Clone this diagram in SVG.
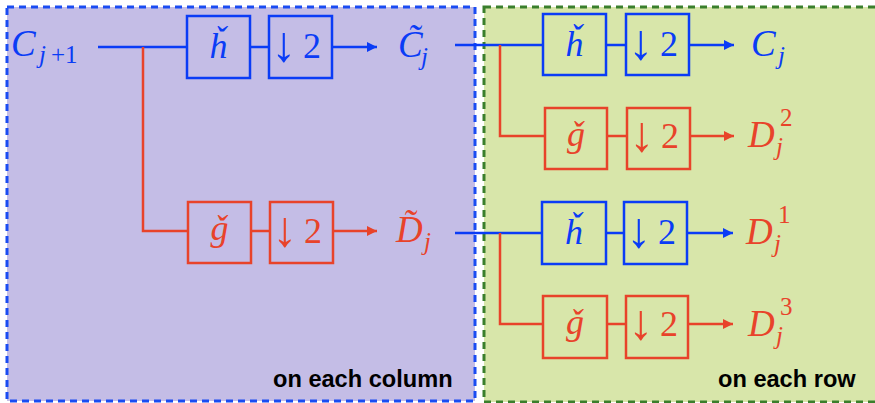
<svg xmlns="http://www.w3.org/2000/svg" width="875" height="403" viewBox="0 0 875 403">
<style>
.math{font-family:"Liberation Serif","DejaVu Serif",serif;font-style:italic;font-size:37px}
.rm{font-style:normal}
.sub{font-size:25px}
.blue{fill:#0a3cf6}
.red{fill:#e8432a}
.bbox{fill:none;stroke:#0a3cf6;stroke-width:2.5}
.rbox{fill:none;stroke:#e8432a;stroke-width:2.5}
.bl{fill:none;stroke:#0a3cf6;stroke-width:2.5}
.rl{fill:none;stroke:#e8432a;stroke-width:2.5}
.glyph{font-family:"Liberation Serif","DejaVu Serif",serif;font-size:36px;text-anchor:middle}
.arr{font-family:"Liberation Serif","DejaVu Serif",serif;font-size:50px;text-anchor:middle}
.two{font-family:"Liberation Serif",serif;font-size:36px;text-anchor:middle}
.caption{font-family:"Liberation Sans",Arial,sans-serif;font-weight:bold;font-size:23.6px;fill:#000}
</style>
<defs>
<marker id="ab" viewBox="0 0 10 10" refX="10" refY="5" markerWidth="4.4" markerHeight="4" markerUnits="strokeWidth" orient="auto"><path d="M0,0 L10,5 L0,10 z" fill="#0a3cf6"/></marker>
<marker id="ar" viewBox="0 0 10 10" refX="10" refY="5" markerWidth="4.4" markerHeight="4" markerUnits="strokeWidth" orient="auto"><path d="M0,0 L10,5 L0,10 z" fill="#e8432a"/></marker>
</defs>
<g id="panel-column">
<rect x="7" y="7" width="468" height="394" fill="#c4bde6" stroke="#1a4cf2" stroke-width="3" stroke-dasharray="7,5"/>
<text class="caption" x="273" y="387">on each column</text>
</g>
<g id="panel-row">
<rect x="484" y="7" width="400" height="395" fill="#d8e6aa" stroke="#3a7f2c" stroke-width="3" stroke-dasharray="7,5"/>
<text class="caption" x="718" y="387">on each row</text>
</g>
<g id="connectors">
<path class="bl" d="M98,47 H187"/>
<path class="bl" d="M250,47 H269"/>
<path class="bl" d="M332,47 H377" marker-end="url(#ab)"/>
<path class="rl" d="M143,47 V231 H188"/>
<path class="rl" d="M251,231 H270"/>
<path class="rl" d="M333,231 H377" marker-end="url(#ar)"/>
<path class="bl" d="M455,45 H543"/>
<path class="bl" d="M606,45 H626"/>
<path class="bl" d="M689,45 H734" marker-end="url(#ab)"/>
<path class="rl" d="M500,45 V136 H545"/>
<path class="rl" d="M607,136 H627"/>
<path class="rl" d="M690,136 H734" marker-end="url(#ar)"/>
<path class="bl" d="M455,233 H542"/>
<path class="bl" d="M606,233 H624"/>
<path class="bl" d="M687,233 H733" marker-end="url(#ab)"/>
<path class="rl" d="M500,233 V324 H543"/>
<path class="rl" d="M607,324 H626"/>
<path class="rl" d="M688,324 H733" marker-end="url(#ar)"/>
</g>
<g id="in-C">
<text class="math blue" x="11" y="56">C<tspan class="sub" x="39" y="63">j</tspan><tspan class="sub rm" x="51" y="63">+1</tspan></text>
</g>
<g id="h1">
<rect class="bbox" x="187" y="16" width="63" height="62"/>
<text class="glyph math blue" x="218.5" y="58">ȟ</text>
</g>
<g id="d1">
<rect class="bbox" x="269" y="16" width="63" height="62"/>
<text class="arr blue" x="284" y="61">↓</text><text class="two blue" x="312" y="58">2</text>
</g>
<g id="g1">
<rect class="rbox" x="188" y="202" width="63" height="61"/>
<text class="glyph math red" x="219.5" y="240">ǧ</text>
</g>
<g id="d2">
<rect class="rbox" x="270" y="202" width="63" height="61"/>
<text class="arr red" x="285" y="246">↓</text><text class="two red" x="313" y="243">2</text>
</g>
<g id="Ct">
<text class="math blue" x="398" y="57">C̃<tspan class="sub" x="421" y="65">j</tspan></text>
</g>
<g id="Dt">
<text class="math red" x="396" y="242">D̃<tspan class="sub" x="424" y="250">j</tspan></text>
</g>
<g id="h2">
<rect class="bbox" x="543" y="14" width="63" height="61"/>
<text class="glyph math blue" x="574.5" y="56">ȟ</text>
</g>
<g id="d3">
<rect class="bbox" x="626" y="14" width="63" height="61"/>
<text class="arr blue" x="641" y="59">↓</text><text class="two blue" x="669" y="56">2</text>
</g>
<g id="Cj">
<text class="math blue" x="751" y="56">C<tspan class="sub" x="778" y="64">j</tspan></text>
</g>
<g id="g2">
<rect class="rbox" x="545" y="108" width="62" height="61"/>
<text class="glyph math red" x="576" y="146">ǧ</text>
</g>
<g id="d4">
<rect class="rbox" x="627" y="108" width="63" height="61"/>
<text class="arr red" x="642" y="151">↓</text><text class="two red" x="670" y="148">2</text>
</g>
<g id="D2">
<text class="math red" x="748" y="147">D<tspan class="sub rm" x="780" y="126">2</tspan><tspan class="sub" x="776" y="155">j</tspan></text>
</g>
<g id="h3">
<rect class="bbox" x="542" y="202" width="64" height="62"/>
<text class="glyph math blue" x="574" y="244">ȟ</text>
</g>
<g id="d5">
<rect class="bbox" x="624" y="202" width="63" height="62"/>
<text class="arr blue" x="639" y="247">↓</text><text class="two blue" x="667" y="244">2</text>
</g>
<g id="D1">
<text class="math red" x="746" y="244">D<tspan class="sub rm" x="778" y="223">1</tspan><tspan class="sub" x="774" y="252">j</tspan></text>
</g>
<g id="g3">
<rect class="rbox" x="543" y="296" width="64" height="62"/>
<text class="glyph math red" x="575" y="334">ǧ</text>
</g>
<g id="d6">
<rect class="rbox" x="626" y="296" width="62" height="62"/>
<text class="arr red" x="641" y="339">↓</text><text class="two red" x="669" y="336">2</text>
</g>
<g id="D3">
<text class="math red" x="748" y="336">D<tspan class="sub rm" x="780" y="315">3</tspan><tspan class="sub" x="776" y="344">j</tspan></text>
</g>
</svg>
